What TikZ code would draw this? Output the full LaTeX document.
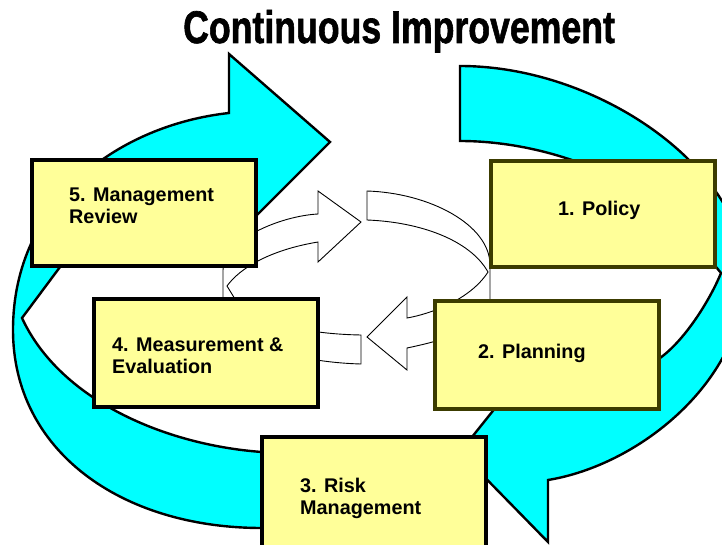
\documentclass[tikz,border=0pt]{standalone}
\usepackage{fontspec}
\usepackage{graphicx}
\setmainfont{Liberation Sans}
\newfontfamily\titlefont{Liberation Sans}[BoldFeatures={FakeBold=1.5}]
\definecolor{ringcyan}{HTML}{00FFFF}
\definecolor{boxyellow}{HTML}{FFFF99}
\definecolor{boxolive}{HTML}{3C3C00}
\begin{document}
\begin{tikzpicture}[x=1pt,y=-1pt,
bigarrow/.style={fill=ringcyan, draw=black, line width=2.4pt},
smallarrow/.style={fill=white, draw=black, line width=0.9pt},
stagebox/.style={draw=black, fill=boxyellow, line width=3.2pt, anchor=north west,
  minimum width=224pt, minimum height=106pt, inner sep=0pt, outer sep=0pt},
darkbox/.style={stagebox, draw=boxolive},
stagetext/.style={font=\bfseries\fontsize{19.8}{22}\selectfont, align=left,
  anchor=base west, inner sep=0pt}]
\clip (0,0) rectangle (722,545);
\draw[bigarrow] (460,66) .. controls (600,66) and (745,170) .. (745,275)
.. controls (745,380) and (640,465) .. (548,480) -- (548,542) -- (460,452)
-- (500,402) .. controls (560,375) and (620,372) .. (660,358)
.. controls (685,340) and (710,300) .. (721,273) -- (712,262)
.. controls (670,190) and (560,141) .. (460,141) -- cycle;
\draw[bigarrow] (320,532) -- (262,528) .. controls (120,528) and (13,450) .. (13,330)
.. controls (13,200) and (120,125) .. (229,113) -- (229,54) -- (330,142)
-- (229,243) -- (229,200) .. controls (150,205) and (90,228) .. (60,267)
-- (22,318) .. controls (60,400) and (165,445) .. (262,452) -- (320,456) -- cycle;
\draw[smallarrow] (361,335) .. controls (300,334) and (250,320) .. (235,299)
-- (227,286) .. controls (240,268) and (270,250) .. (318,242) -- (318,262)
-- (361,222) -- (318,191) -- (318,214) .. controls (280,216) and (223,240) .. (223,270)
-- (223,299) .. controls (223,340) and (290,362) .. (361,364) -- cycle;
\draw[smallarrow] (367,191) .. controls (430,193) and (490,225) .. (490,265)
-- (490,300) .. controls (490,325) and (455,338) .. (407,348) -- (407,370)
-- (367,337) -- (407,297) -- (407,318) .. controls (430,314) and (470,300) .. (488,272)
.. controls (470,240) and (420,222) .. (367,220) -- cycle;
\node[stagebox] (review) at (32,160) {};
\node[darkbox] (policy) at (491,161) {};
\node[stagebox, minimum height=108pt] (measure) at (94,299) {};
\node[darkbox, minimum height=108pt] (planning) at (435,301) {};
\node[stagebox, minimum height=120pt] (risk) at (262,437) {};
\node[stagetext] (policytxt) at (558,215) {1. Policy};
\node[stagetext] (planningtxt) at (478,358) {2. Planning};
\node[stagetext] (risktxt) at (300,514) {3. Risk\\Management};
\node[stagetext] (measuretxt) at (112,373) {4. Measurement \&\\Evaluation};
\node[stagetext] (reviewtxt) at (69,224) {5. Management\\Review};
\node[anchor=base west, inner sep=0pt] (title) at (183,43)
{\scalebox{0.78}[1]{\titlefont\bfseries\fontsize{45.7}{50}\selectfont Continuous Improvement}};
\end{tikzpicture}
\end{document}
